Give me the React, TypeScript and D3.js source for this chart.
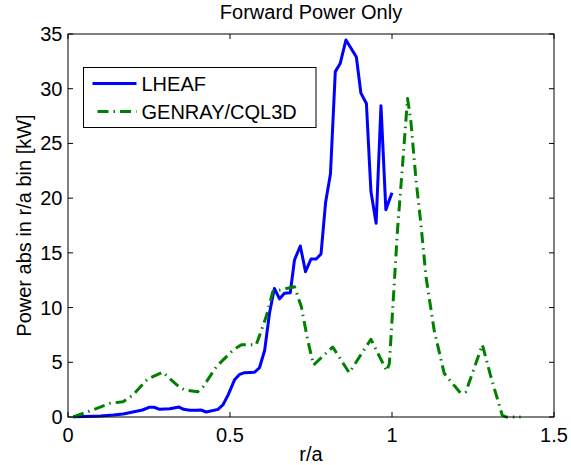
import React from "react";
import * as d3 from "d3";

const lheafR = [0.016, 0.05, 0.1, 0.14, 0.17, 0.2, 0.23, 0.25, 0.266, 0.283, 0.314, 0.343, 0.357, 0.376, 0.396, 0.41, 0.427, 0.463, 0.478, 0.494, 0.514, 0.53, 0.545, 0.576, 0.591, 0.607, 0.622, 0.637, 0.653, 0.668, 0.686, 0.699, 0.717, 0.733, 0.75, 0.766, 0.781, 0.795, 0.81, 0.825, 0.84, 0.858, 0.89, 0.904, 0.921, 0.935, 0.951, 0.966, 0.981, 1.0];
const lheafP = [0.02, 0.05, 0.1, 0.18, 0.27, 0.45, 0.64, 0.89, 0.89, 0.7, 0.76, 0.91, 0.7, 0.61, 0.61, 0.64, 0.46, 0.7, 1.1, 2.0, 3.4, 3.9, 4.05, 4.1, 4.5, 6.1, 9.5, 11.75, 10.8, 11.3, 11.35, 14.35, 15.63, 13.28, 14.44, 14.44, 14.9, 19.6, 22.2, 31.56, 32.3, 34.46, 32.9, 29.6, 28.65, 20.6, 17.7, 28.45, 18.95, 20.5];

const genrayR = [0.016, 0.063, 0.13, 0.17, 0.2, 0.245, 0.292, 0.345, 0.36, 0.4, 0.417, 0.458, 0.509, 0.535, 0.581, 0.612, 0.632, 0.663, 0.699, 0.72, 0.74, 0.758, 0.817, 0.868, 0.935, 0.984, 0.992, 1.017, 1.033, 1.048, 1.058, 1.074, 1.089, 1.105, 1.13, 1.161, 1.182, 1.212, 1.228, 1.279, 1.305, 1.34, 1.352, 1.397];
const genrayP = [0.0, 0.5, 1.25, 1.4, 2.0, 3.45, 4.1, 2.7, 2.47, 2.3, 2.77, 4.6, 6.1, 6.6, 6.6, 9.2, 11.45, 11.67, 11.9, 10.1, 7.0, 4.75, 6.4, 4.05, 7.1, 4.2, 4.9, 17.1, 23.2, 29.1, 27.1, 21.7, 17.7, 12.8, 7.95, 4.0, 3.23, 2.17, 2.3, 6.6, 3.7, 0.18, 0.0, 0.0];

const xTicks = [0, 0.5, 1, 1.5];
const xTickLabels = ["0", "0.5", "1", "1.5"];
const yTicks = [0, 5, 10, 15, 20, 25, 30, 35];

const title = "Forward Power Only";
const xLabel = "r/a";
const yLabel = "Power abs in r/a bin [kW]";
const seriesNames = ["LHEAF", "GENRAY/CQL3D"];

const W = 571;
const H = 465;
const L = 68;
const R = 554;
const T = 34;
const B = 417;
const FONT = "'Liberation Sans', Arial, Helvetica, sans-serif";

export default function App() {
  const x = d3.scaleLinear().domain([0, 1.5]).range([L, R]);
  const y = d3.scaleLinear().domain([0, 35]).range([B, T]);
  const line = d3
    .line<[number, number]>()
    .x((d) => x(d[0]))
    .y((d) => y(d[1]));
  const blue = lheafR.map((r, i) => [r, lheafP[i]] as [number, number]);
  const green = genrayR.map((r, i) => [r, genrayP[i]] as [number, number]);
  const tl = 5;
  const dash = "11 5 1.5 5";

  return (
    <svg
      width={W}
      height={H}
      style={{ position: "absolute", left: 0, top: 0, background: "#fff" }}
      fontFamily={FONT}
    >
      <rect x={0} y={0} width={W} height={H} fill="#fff" />
      {/* lines */}
      <path d={line(blue) || ""} fill="none" stroke="#0000ff" strokeWidth={3} strokeLinejoin="round" />
      <path d={line(green) || ""} fill="none" stroke="#008000" strokeWidth={3} strokeDasharray={dash} strokeLinejoin="round" />
      {/* axes box */}
      <rect x={L} y={T} width={R - L} height={B - T} fill="none" stroke="#000" strokeWidth={1} />
      {xTicks.map((t, i) => (
        <g key={"x" + i}>
          <line x1={x(t)} x2={x(t)} y1={B} y2={B - tl} stroke="#000" />
          <line x1={x(t)} x2={x(t)} y1={T} y2={T + tl} stroke="#000" />
          <text x={x(t)} y={441.5} fontSize={20} textAnchor="middle" fill="#000">
            {xTickLabels[i]}
          </text>
        </g>
      ))}
      {yTicks.map((t, i) => (
        <g key={"y" + i}>
          <line x1={L} x2={L + tl} y1={y(t)} y2={y(t)} stroke="#000" />
          <line x1={R} x2={R - tl} y1={y(t)} y2={y(t)} stroke="#000" />
          <text x={62.5} y={y(t) + 7} fontSize={20} textAnchor="end" fill="#000">
            {String(t)}
          </text>
        </g>
      ))}
      <text x={(L + R) / 2} y={19} fontSize={20} textAnchor="middle" fill="#000">
        {title}
      </text>
      <text x={(L + R) / 2} y={461} fontSize={20} textAnchor="middle" fill="#000">
        {xLabel}
      </text>
      <text
        transform={`translate(31,${(T + B) / 2}) rotate(-90)`}
        fontSize={20}
        textAnchor="middle"
        fill="#000"
      >
        {yLabel}
      </text>
      {/* legend */}
      <rect x={83.5} y={67.5} width={232.5} height={60} fill="#fff" stroke="#000" strokeWidth={1} />
      <line x1={92.5} x2={136.5} y1={83.5} y2={83.5} stroke="#0000ff" strokeWidth={3} />
      <line x1={92.5} x2={136.5} y1={111.5} y2={111.5} stroke="#008000" strokeWidth={3} strokeDasharray={dash} strokeDashoffset={-5} />
      <text x={141.5} y={90.5} fontSize={20} fill="#000">
        {seriesNames[0]}
      </text>
      <text x={141.5} y={118.5} fontSize={20} fill="#000">
        {seriesNames[1]}
      </text>
    </svg>
  );
}
